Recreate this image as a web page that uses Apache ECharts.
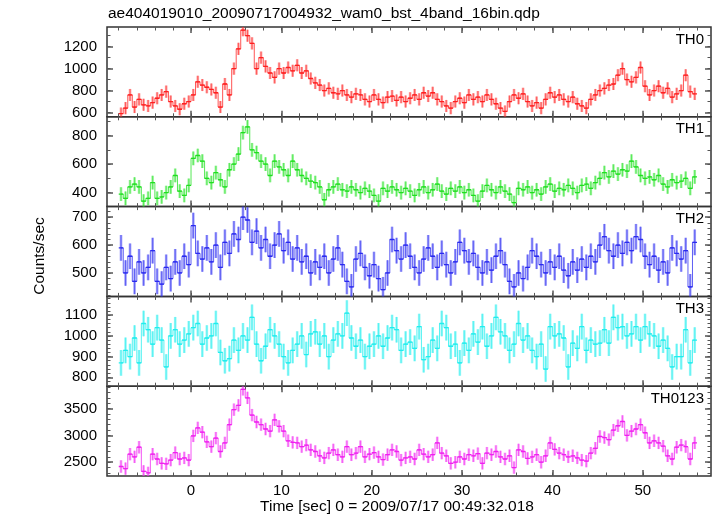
<!DOCTYPE html>
<html><head><meta charset="utf-8">
<script src="https://cdn.jsdelivr.net/npm/echarts@6/dist/echarts.min.js"></script>
<style>html,body{margin:0;padding:0;background:#fff}#c{width:717px;height:516px}</style>
</head><body><div id="c"></div>
<script>
// ---- data ----
const titleText = 'ae404019010_20090717004932_wam0_bst_4band_16bin.qdp';
const yAxisTitle = 'Counts/sec';
const xAxisTitle = 'Time [sec] 0 = 2009/07/17 00:49:32.018';
const panelNames = ['TH0', 'TH1', 'TH2', 'TH3', 'TH0123'];
const binStart = -8;     // first bin edge (s)
const binWidth = 0.5;    // 16 x 1/32 s bins

const th0 = [590,640,760,650,720,670,660,690,730,760,790,700,660,630,680,700,760,880,850,830,
  810,780,650,860,760,1000,1180,1350,1300,1230,1000,1100,1020,960,920,1000,960,1010,980,1030,
  960,980,910,870,850,800,820,780,770,800,760,740,770,760,720,700,760,720,690,740,
  750,710,740,700,730,760,720,780,750,780,720,700,660,640,700,730,690,760,720,740,
  700,760,720,680,640,610,700,760,730,770,700,660,690,640,720,780,740,760,720,700,
  740,680,660,640,720,760,800,820,850,860,940,1000,900,880,920,1010,840,760,800,840,
  780,820,740,770,800,940,790,770];
const th1 = [390,360,440,460,440,340,360,470,360,370,400,440,520,410,380,450,640,660,620,500,
  470,540,490,440,560,600,670,820,860,700,680,620,600,520,620,580,560,520,620,560,
  520,500,480,470,440,350,420,440,460,420,410,440,420,400,430,410,380,340,430,410,
  440,420,400,430,410,380,420,440,400,420,460,410,390,430,410,440,400,420,380,340,
  410,450,420,400,440,410,390,330,430,420,440,400,420,390,440,460,410,430,420,450,
  430,400,450,460,430,470,500,540,510,550,530,560,550,620,580,520,500,510,490,520,
  460,440,490,470,480,500,430,510];
const th2 = [590,500,560,470,540,500,520,580,470,460,520,480,540,500,560,530,670,570,550,590,
  540,600,520,610,570,640,620,700,690,610,650,590,620,560,600,640,580,610,550,590,
  540,560,500,540,520,560,500,550,590,530,470,450,550,570,520,490,530,480,440,500,
  620,580,550,600,560,520,500,550,590,560,520,570,530,500,540,610,580,540,570,520,
  500,540,510,560,580,530,470,450,500,480,520,580,560,530,500,540,520,560,510,490,
  540,510,550,520,560,540,600,630,580,560,600,570,610,580,630,620,560,530,560,510,
  540,500,590,570,550,580,450,610];
const th3 = [870,930,900,990,870,1060,1030,960,1040,980,850,1000,1030,960,980,1010,1040,1060,960,990,
  1000,1060,920,880,890,980,930,1000,980,1090,960,880,950,1030,1000,960,900,870,930,960,
  1000,910,1010,1020,960,1000,900,980,1010,1000,1110,990,950,980,900,950,960,1000,950,990,
  1040,1030,930,960,970,940,1045,885,900,980,940,1060,1040,950,960,870,965,930,1010,970,
  1045,950,1000,1090,1020,1000,930,960,1060,980,1000,930,900,960,840,1045,1000,1010,990,850,
  965,940,1045,930,980,960,965,1030,965,1090,1040,1045,1000,1010,1045,980,1045,1010,1000,950,
  980,940,850,900,900,1030,870,980];
const th0123 = [2420,2380,2650,2600,2780,2330,2300,2650,2560,2480,2470,2540,2680,2560,2580,2540,2990,3140,3060,2880,
  2790,2950,2700,2860,3200,3480,3560,3860,3700,3380,3250,3200,3120,3080,3290,3170,3080,2900,2870,2860,
  2790,2820,2730,2700,2620,2580,2670,2730,2640,2600,2790,2640,2670,2790,2600,2650,2680,2600,2550,2640,
  2730,2700,2540,2580,2600,2560,2730,2650,2600,2640,2860,2670,2620,2480,2500,2600,2560,2640,2620,2660,
  2480,2670,2640,2700,2600,2560,2620,2400,2730,2700,2570,2600,2640,2500,2620,2860,2740,2670,2640,2600,
  2620,2580,2540,2520,2670,2760,2980,2960,2920,3100,3180,3260,3000,3080,3120,3200,3050,2860,2900,2860,
  2800,2620,2560,2780,2820,2790,2560,2860];
const panelValues = [th0, th1, th2, th3, th0123];
const panelErrors = [55, 48, 46, 62, 115];          // typical 1-sigma half-length of the error bars

const xRange = [-9.3, 57.55];
const xMajorTicks = [0, 10, 20, 30, 40, 50];
const xMinorTicks = [-8,-6,-4,-2,0,2,4,6,8,10,12,14,16,18,20,22,24,26,28,30,32,34,36,38,40,42,44,46,48,50,52,54,56];
const yRanges = [[561, 1379], [302, 931], [416, 738], [757, 1191], [2243, 3918]];
const yMajorTicks = [[600, 800, 1000, 1200], [400, 600, 800], [500, 600, 700], [800, 900, 1000, 1100], [2500, 3000, 3500]];
const yMinorSteps = [100, 100, 20, 20, 100];
const panelColors = ['#ff2020', '#20e020', '#2a2af0', '#20eeee', '#f020f0'];
const panelLight  = ['rgba(255,70,70,0.5)', 'rgba(70,235,70,0.5)', 'rgba(70,70,245,0.5)', 'rgba(70,240,240,0.55)', 'rgba(245,70,245,0.5)'];

// ---- layout ----
const FONT = 'Liberation Sans, Arial, Helvetica, sans-serif';
const plotLeft = 107, plotRight = 711, plotTop = 27, plotBottom = 476;
const panelH = (plotBottom - plotTop) / 5;

const chart = echarts.init(document.getElementById('c'), null, {renderer: 'canvas'});

const grids = [], xAxes = [], yAxes = [], series = [], graphics = [];

function minorList(range, step) {
  const out = [];
  let v = Math.ceil(range[0] / step) * step;
  for (; v <= range[1]; v += step) out.push(v);
  return out;
}

for (let k = 0; k < 5; k++) {
  const top = plotTop + k * panelH;
  grids.push({left: plotLeft, width: plotRight - plotLeft, top: top, height: panelH,
    show: true, borderColor: '#333', borderWidth: 1.5, backgroundColor: 'transparent', containLabel: false});
  const baseX = {gridIndex: k, type: 'value', min: xRange[0], max: xRange[1],
    axisLine: {show: false, onZero: false}, splitLine: {show: false}, axisLabel: {show: false}};
  xAxes.push(Object.assign({}, baseX, {position: 'bottom',
    axisTick: {show: true, inside: true, length: 6, customValues: xMajorTicks, lineStyle: {color: '#555', width: 1.5}},
    axisLabel: {show: k === 4, customValues: xMajorTicks, color: '#000', fontSize: 15, fontFamily: FONT, margin: 7,
      formatter: v => String(v)}}));
  xAxes.push(Object.assign({}, baseX, {position: 'top',
    axisTick: {show: true, inside: true, length: 6, customValues: xMajorTicks, lineStyle: {color: '#555', width: 1.5}}}));
  xAxes.push(Object.assign({}, baseX, {position: 'bottom',
    axisTick: {show: true, inside: true, length: 3.5, customValues: xMinorTicks, lineStyle: {color: '#555', width: 1}}}));
  xAxes.push(Object.assign({}, baseX, {position: 'top',
    axisTick: {show: true, inside: true, length: 3.5, customValues: xMinorTicks, lineStyle: {color: '#555', width: 1}}}));

  const yr = yRanges[k];
  const yMinor = minorList(yr, yMinorSteps[k]);
  const baseY = {gridIndex: k, type: 'value', min: yr[0], max: yr[1],
    axisLine: {show: false, onZero: false}, splitLine: {show: false}, axisLabel: {show: false}};
  yAxes.push(Object.assign({}, baseY, {position: 'left',
    axisTick: {show: true, inside: true, length: 6, customValues: yMajorTicks[k], lineStyle: {color: '#555', width: 1.5}},
    axisLabel: {show: true, customValues: yMajorTicks[k], color: '#000', fontSize: 15, fontFamily: FONT, margin: 10,
      formatter: v => String(v)}}));
  yAxes.push(Object.assign({}, baseY, {position: 'right',
    axisTick: {show: true, inside: true, length: 6, customValues: yMajorTicks[k], lineStyle: {color: '#555', width: 1.5}}}));
  yAxes.push(Object.assign({}, baseY, {position: 'left',
    axisTick: {show: true, inside: true, length: 3.5, customValues: yMinor, lineStyle: {color: '#555', width: 1}}}));
  yAxes.push(Object.assign({}, baseY, {position: 'right',
    axisTick: {show: true, inside: true, length: 3.5, customValues: yMinor, lineStyle: {color: '#555', width: 1}}}));

  const vals = panelValues[k];
  const err = panelErrors[k];
  const data = vals.map((v, i) => [binStart + binWidth * (i + 0.5), v, err]);
  const col = panelColors[k], light = panelLight[k];
  // error bars (vertical) + bin widths (horizontal)
  series.push({
    type: 'custom', name: panelNames[k], xAxisIndex: 4 * k, yAxisIndex: 4 * k, clip: true,
    data: data, animation: false,
    renderItem: function (params, api) {
      const t = api.value(0), v = api.value(1), e = api.value(2);
      const l = api.coord([t - binWidth / 2, v]);
      const r = api.coord([t + binWidth / 2, v]);
      const hi = api.coord([t, v + e]);
      const lo = api.coord([t, v - e]);
      return {type: 'group', children: [
        {type: 'line', shape: {x1: hi[0], y1: hi[1], x2: lo[0], y2: lo[1]}, style: {stroke: light, lineWidth: 2.6}},
        {type: 'line', shape: {x1: hi[0], y1: hi[1], x2: lo[0], y2: lo[1]}, style: {stroke: col, lineWidth: 0.7, opacity: 0.8}},
        {type: 'line', shape: {x1: l[0], y1: l[1], x2: r[0], y2: r[1]}, style: {stroke: col, lineWidth: 1.3}}
      ]};
    }
  });
  // connecting step line through the bins
  series.push({
    type: 'line', xAxisIndex: 4 * k, yAxisIndex: 4 * k, step: 'middle', clip: true,
    data: data.map(d => [d[0], d[1]]), showSymbol: false, symbol: 'none', animation: false,
    lineStyle: {color: col, width: 0.9, opacity: 0.85}, z: 3
  });

  graphics.push({type: 'text', right: 717 - 704, top: top + 5,
    style: {text: panelNames[k], fill: '#000', font: '15px ' + FONT}});
}

graphics.push({type: 'text', left: 108, top: 6, style: {text: titleText, fill: '#000', font: '15.5px ' + FONT}});
graphics.push({type: 'text', x: 40, y: 256, rotation: Math.PI / 2,
  style: {text: yAxisTitle, fill: '#000', font: '15.5px ' + FONT, align: 'center', verticalAlign: 'middle'}});
graphics.push({type: 'text', x: 397, y: 507,
  style: {text: xAxisTitle, fill: '#000', font: '15.5px ' + FONT, align: 'center', verticalAlign: 'middle'}});

chart.setOption({
  animation: false,
  backgroundColor: '#fff',
  grid: grids, xAxis: xAxes, yAxis: yAxes, series: series, graphic: graphics
});
</script></body></html>
